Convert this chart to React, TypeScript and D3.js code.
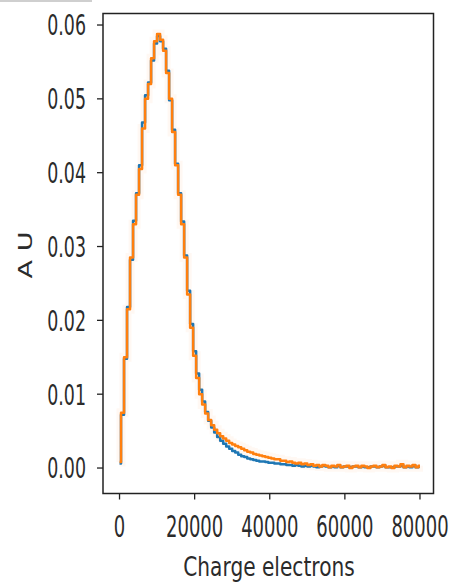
import React from "react";
import * as d3 from "d3";

const W = 452;
const H = 585;

// bin positions (electrons)
const charge: number[] = d3.range(0, 80001, 800);

const seriesOrange: number[] = [
  0.0008, 0.0075, 0.015, 0.0215, 0.0285, 0.033, 0.037, 0.0405, 0.046, 0.05,
  0.052, 0.0555, 0.0578, 0.0588, 0.058, 0.0565, 0.0535, 0.05, 0.0455, 0.041,
  0.037, 0.033, 0.0285, 0.0235, 0.019, 0.0152, 0.0122, 0.01, 0.0086, 0.0074,
  0.0065, 0.0058, 0.0052, 0.0047, 0.0043, 0.004, 0.0037, 0.0034, 0.0032, 0.003,
  0.0028, 0.0026, 0.0024, 0.0022, 0.0021, 0.0019, 0.0018, 0.0017, 0.0016, 0.0015,
  0.0014, 0.0013, 0.0012, 0.0012, 0.001, 0.001, 0.0008, 0.0009, 0.0007, 0.0006,
  0.0007, 0.0005, 0.0006, 0.0004, 0.0005, 0.0003, 0.0004, 0.0002, 0.0004, 0.0003,
  0.0001, 0.0003, 0.0002, 0.0004, 0.0001, 0.0002, 0.0003, 0.0, 0.0002, 0.0003,
  0.0001, 0.0003, 0.0002, 0.0, 0.0002, 0.0003, 0.0001, 0.0002, 0.0004, 0.0001,
  0.0002, 0.0, 0.0003, 0.0002, 0.0005, 0.0001, 0.0003, 0.0002, 0.0004, 0.0001,
  0.0003,
];

const seriesBlue: number[] = [
  0.0006, 0.0072, 0.0148, 0.0218, 0.0282, 0.0335, 0.0372, 0.041, 0.0468, 0.0505,
  0.0522, 0.0552, 0.0575, 0.0585, 0.0578, 0.0568, 0.0538, 0.0498, 0.0458, 0.0412,
  0.0372, 0.0334, 0.0288, 0.024, 0.0195, 0.0158, 0.0128, 0.0106, 0.009, 0.0076,
  0.0064, 0.0055, 0.0048, 0.0042, 0.0037, 0.0033, 0.0029, 0.0026, 0.0023, 0.0021,
  0.0018, 0.0016, 0.0015, 0.0013, 0.0012, 0.0011, 0.001, 0.0009, 0.0009, 0.0008,
  0.0007, 0.0007, 0.0006, 0.0006, 0.0005, 0.0005, 0.0004, 0.0004, 0.0003, 0.0004,
  0.0003, 0.0002, 0.0003, 0.0002, 0.0003, 0.0002, 0.0001, 0.0002, 0.0003, 0.0002,
  0.0001, 0.0002, 0.0001, 0.0003, 0.0001, 0.0002, 0.0002, 0.0001, 0.0002, 0.0002,
  0.0001, 0.0002, 0.0001, 0.0001, 0.0002, 0.0002, 0.0001, 0.0002, 0.0003, 0.0001,
  0.0001, 0.0001, 0.0002, 0.0002, 0.0003, 0.0001, 0.0002, 0.0001, 0.0003, 0.0001,
  0.0002,
];

const xTicks: number[] = [0, 20000, 40000, 60000, 80000];
const yTicks: number[] = [0, 0.01, 0.02, 0.03, 0.04, 0.05, 0.06];
const xLabel = "Charge electrons";
const yLabel = "A U";

const LEFT = 103;
const RIGHT = 433.5;
const TOP = 13.5;
const BOTTOM = 493.5;

export default function App() {
  const x = d3.scaleLinear().domain([-4400, 83600]).range([LEFT, RIGHT]);
  const y = d3.scaleLinear().domain([-0.00345, 0.06156]).range([BOTTOM, TOP]);

  const line = d3
    .line<number>()
    .x((_, i) => x(charge[i]))
    .y((d) => y(d))
    .curve(d3.curveStep);

  const blueD = line(seriesBlue) || "";
  const orangeD = line(seriesOrange) || "";

  const textColor = "#2b2b2b";

  return (
    <svg
      width={W}
      height={H}
      style={{ position: "absolute", left: 0, top: 0, background: "#fff" }}
      fontFamily="DejaVu Sans"
    >
      <rect x={0} y={0} width={W} height={H} fill="#fff" />
      <rect x={0} y={0} width={92} height={2} fill="#cfcfcf" />
      <defs>
        <clipPath id="plotclip">
          <rect x={LEFT} y={TOP} width={RIGHT - LEFT} height={BOTTOM - TOP} />
        </clipPath>
      </defs>
      <g clipPath="url(#plotclip)">
        <path d={orangeD} fill="none" stroke="#ff7f0e" strokeOpacity={0.05} strokeWidth={9} />
        <path d={blueD} fill="none" stroke="#1f77b4" strokeWidth={2.5} strokeLinejoin="round" />
        <path d={orangeD} fill="none" stroke="#ff7f0e" strokeWidth={2.5} strokeLinejoin="round" />
      </g>
      <rect
        x={LEFT}
        y={TOP}
        width={RIGHT - LEFT}
        height={BOTTOM - TOP}
        fill="none"
        stroke="#222"
        strokeWidth={1.5}
      />
      {yTicks.map((t) => (
        <g key={"y" + t}>
          <line x1={LEFT - 6} x2={LEFT} y1={y(t)} y2={y(t)} stroke="#222" strokeWidth={1.3} />
          <text
            transform={`translate(86, ${y(t)}) scale(0.6, 1)`}
            textAnchor="end"
            dy="0.36em"
            fontSize={29}
            fill={textColor}
          >
            {t.toFixed(2)}
          </text>
        </g>
      ))}
      {xTicks.map((t) => (
        <g key={"x" + t}>
          <line x1={x(t)} x2={x(t)} y1={BOTTOM} y2={BOTTOM + 6} stroke="#222" strokeWidth={1.3} />
          <text
            transform={`translate(${x(t)}, 537) scale(0.6, 1)`}
            textAnchor="middle"
            fontSize={30}
            fill={textColor}
          >
            {String(t)}
          </text>
        </g>
      ))}
      <text
        transform={`translate(269, 576) scale(0.775, 1)`}
        textAnchor="middle"
        fontSize={26}
        fill={textColor}
      >
        {xLabel}
      </text>
      <text
        transform={`translate(32, 255) rotate(-90) scale(1.35, 1)`}
        textAnchor="middle"
        fontSize={20}
        fill={textColor}
      >
        {yLabel}
      </text>
    </svg>
  );
}
